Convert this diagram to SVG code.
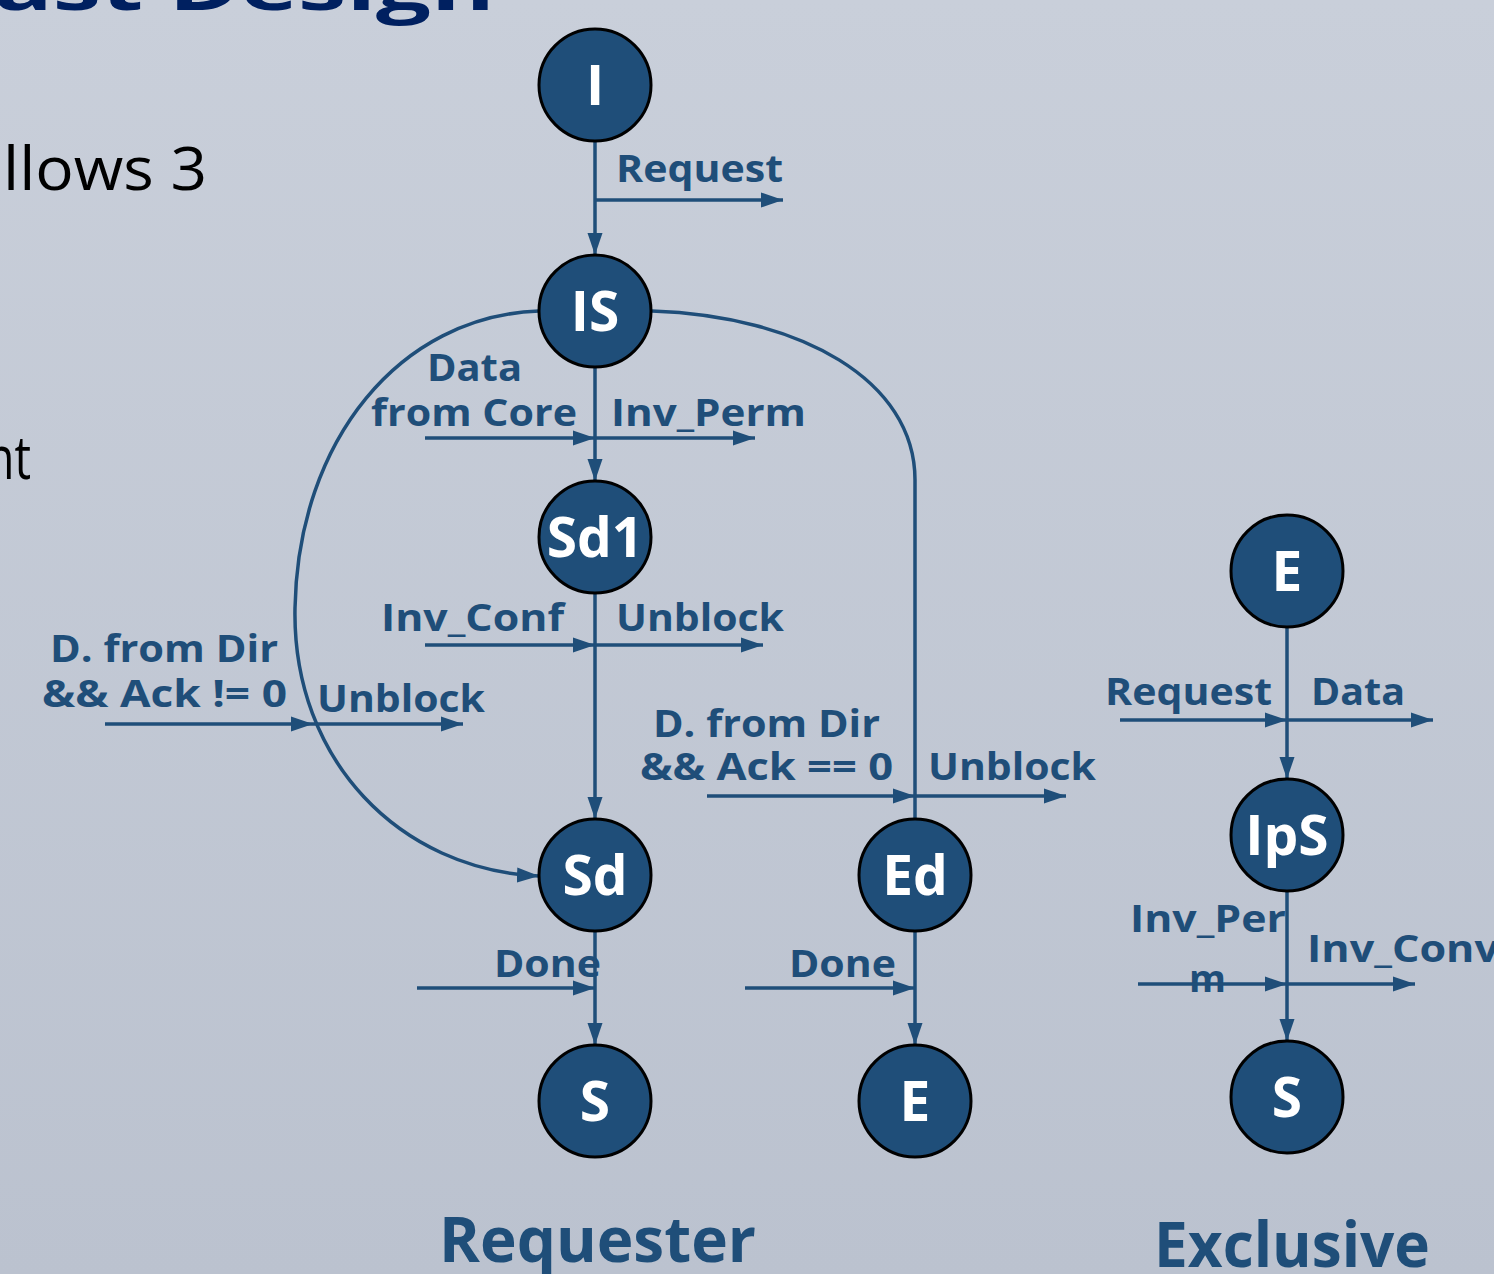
<svg xmlns="http://www.w3.org/2000/svg" width="1494" height="1274" viewBox="0 0 1494 1274">
  <defs>
    <linearGradient id="bg" x1="0" y1="0" x2="0" y2="1">
      <stop offset="0" stop-color="#c9cfda"/>
      <stop offset="1" stop-color="#bbc2cf"/>
    </linearGradient>
    <marker id="arrow" markerUnits="userSpaceOnUse" markerWidth="24" markerHeight="16" refX="22" refY="8" orient="auto">
      <path d="M0,0.5 L22,8 L0,15.5 z" fill="#1f4e79"/>
    </marker>
    <style>
      .lbl { font-family: "Open Sans", Lato, "Liberation Sans", sans-serif; font-weight: 700; font-size: 38px; fill: #1f4e79; }
      .big { font-family: "Open Sans", Lato, "Liberation Sans", sans-serif; font-weight: 700; font-size: 62px; fill: #1f4e79; }
      .body { font-family: "Open Sans", Lato, "Liberation Sans", sans-serif; font-weight: 400; font-size: 60px; fill: #000000; }
      .title { font-family: "Open Sans", Lato, "Liberation Sans", sans-serif; font-weight: 700; font-size: 64px; fill: #002060; }
      .edge { fill: none; stroke: #1f4e79; stroke-width: 3.5; }
      .arr { marker-end: url(#arrow); }
      .state circle { fill: #1f4e79; stroke: #000000; stroke-width: 3; }
      .state text { font-family: "Open Sans", Lato, "Liberation Sans", sans-serif; font-weight: 700; font-size: 55px; fill: #ffffff; text-anchor: middle; }
    </style>
  </defs>

  <rect x="0" y="0" width="1494" height="1274" fill="url(#bg)"/>

  <!-- slide text behind the diagram -->
  <g id="slide-text">
    <text class="title" x="-6" y="10" textLength="501" lengthAdjust="spacingAndGlyphs">ast Design</text>
    <text class="body" x="3" y="190" textLength="204" lengthAdjust="spacingAndGlyphs">llows 3</text>
    <text class="body" x="-14" y="479" textLength="45" lengthAdjust="spacingAndGlyphs">nt</text>
  </g>

  <!-- transition labels -->
  <g id="labels">
    <text class="lbl" x="616" y="182" textLength="167" lengthAdjust="spacingAndGlyphs">Request</text>
    <text class="lbl" x="427" y="381" textLength="95" lengthAdjust="spacingAndGlyphs">Data</text>
    <text class="lbl" x="371" y="426" textLength="206" lengthAdjust="spacingAndGlyphs">from Core</text>
    <text class="lbl" x="611" y="426" textLength="195" lengthAdjust="spacingAndGlyphs">Inv_Perm</text>
    <text class="lbl" x="381" y="631" textLength="183" lengthAdjust="spacingAndGlyphs">Inv_Conf</text>
    <text class="lbl" x="616" y="631" textLength="168" lengthAdjust="spacingAndGlyphs">Unblock</text>
    <text class="lbl" x="50" y="662" textLength="228" lengthAdjust="spacingAndGlyphs">D. from Dir</text>
    <text class="lbl" x="42" y="707" textLength="245" lengthAdjust="spacingAndGlyphs">&amp;&amp; Ack != 0</text>
    <text class="lbl" x="317" y="712" textLength="168" lengthAdjust="spacingAndGlyphs">Unblock</text>
    <text class="lbl" x="653" y="737" textLength="227" lengthAdjust="spacingAndGlyphs">D. from Dir</text>
    <text class="lbl" x="640" y="780" textLength="253" lengthAdjust="spacingAndGlyphs">&amp;&amp; Ack == 0</text>
    <text class="lbl" x="928" y="780" textLength="168" lengthAdjust="spacingAndGlyphs">Unblock</text>
    <text class="lbl" x="494" y="977" textLength="107" lengthAdjust="spacingAndGlyphs">Done</text>
    <text class="lbl" x="789" y="977" textLength="107" lengthAdjust="spacingAndGlyphs">Done</text>
    <text class="lbl" x="1105" y="705" textLength="167" lengthAdjust="spacingAndGlyphs">Request</text>
    <text class="lbl" x="1311" y="705" textLength="94" lengthAdjust="spacingAndGlyphs">Data</text>
    <text class="lbl" x="1130" y="932" textLength="156" lengthAdjust="spacingAndGlyphs">Inv_Per</text>
    <text class="lbl" x="1189" y="992" textLength="37" lengthAdjust="spacingAndGlyphs">m</text>
    <text class="lbl" x="1307" y="962" textLength="192" lengthAdjust="spacingAndGlyphs">Inv_Conv</text>
    <text class="big" x="439" y="1262" textLength="317" lengthAdjust="spacingAndGlyphs">Requester</text>
    <text class="big" x="1154" y="1267" textLength="276" lengthAdjust="spacingAndGlyphs">Exclusive</text>
  </g>

  <!-- transitions -->
  <g id="connectors">
    <!-- Requester column -->
    <path class="edge arr" d="M595,141 V255"/>
    <path class="edge arr" d="M595,200 H783"/>
    <path class="edge arr" d="M595,367 V481"/>
    <path class="edge arr" d="M425,438 H595"/>
    <path class="edge arr" d="M595,438 H755"/>
    <path class="edge arr" d="M595,593 V819"/>
    <path class="edge arr" d="M425,645 H595"/>
    <path class="edge arr" d="M595,645 H763"/>
    <path class="edge arr" d="M539,311 C400,316 298,440 295,608 C292,760 400,870 539,876"/>
    <path class="edge arr" d="M105,724 H313"/>
    <path class="edge arr" d="M313,724 H463"/>
    <path class="edge" d="M652,311 C800,316 915,380 915,480 V819"/>
    <path class="edge arr" d="M707,796 H915"/>
    <path class="edge arr" d="M915,796 H1066"/>
    <path class="edge arr" d="M595,931 V1045"/>
    <path class="edge arr" d="M417,988 H595"/>
    <path class="edge arr" d="M915,931 V1045"/>
    <path class="edge arr" d="M745,988 H915"/>
    <!-- Exclusive column -->
    <path class="edge arr" d="M1287,627 V779"/>
    <path class="edge arr" d="M1120,720 H1287"/>
    <path class="edge arr" d="M1287,720 H1433"/>
    <path class="edge arr" d="M1287,891 V1041"/>
    <path class="edge arr" d="M1138,984 H1287"/>
    <path class="edge arr" d="M1287,984 H1415"/>
  </g>

  <!-- states -->
  <g id="node-I" class="state"><circle cx="595" cy="85" r="56"/><text x="595" y="105">I</text></g>
  <g id="node-IS" class="state"><circle cx="595" cy="311" r="56"/><text x="595" y="331">IS</text></g>
  <g id="node-Sd1" class="state"><circle cx="595" cy="537" r="56"/><text x="595" y="557">Sd1</text></g>
  <g id="node-Sd" class="state"><circle cx="595" cy="875" r="56"/><text x="595" y="895">Sd</text></g>
  <g id="node-S" class="state"><circle cx="595" cy="1101" r="56"/><text x="595" y="1121">S</text></g>
  <g id="node-Ed" class="state"><circle cx="915" cy="875" r="56"/><text x="915" y="895">Ed</text></g>
  <g id="node-E" class="state"><circle cx="915" cy="1101" r="56"/><text x="915" y="1121">E</text></g>
  <g id="node-E2" class="state"><circle cx="1287" cy="571" r="56"/><text x="1287" y="591">E</text></g>
  <g id="node-IpS" class="state"><circle cx="1287" cy="835" r="56"/><text x="1287" y="855">IpS</text></g>
  <g id="node-S2" class="state"><circle cx="1287" cy="1097" r="56"/><text x="1287" y="1117">S</text></g>
</svg>
